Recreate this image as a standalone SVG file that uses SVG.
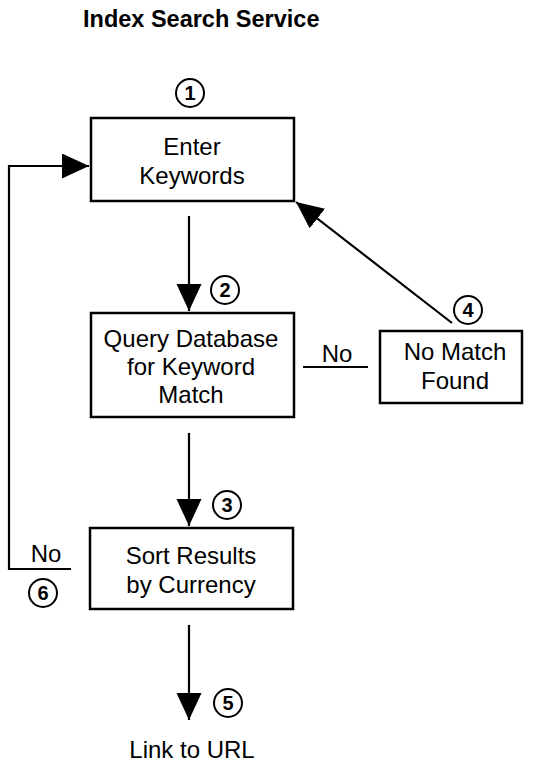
<svg xmlns="http://www.w3.org/2000/svg" width="539" height="767" viewBox="0 0 539 767">
<style>
.box{fill:#fff;stroke:#000;stroke-width:2.5}
.lbl{font-family:"Liberation Sans",Arial,sans-serif;font-size:24px;text-anchor:middle;fill:#000}
.num{font-family:"Liberation Sans",Arial,sans-serif;font-size:20px;font-weight:bold;text-anchor:middle;fill:#000}
.circ{fill:#fff;stroke:#000;stroke-width:2}
.ln{fill:none;stroke:#000;stroke-width:2.2}
.title{font-family:"Liberation Sans",Arial,sans-serif;font-size:23.5px;font-weight:bold;fill:#000}
</style>
<defs>
<marker id="ah" markerUnits="userSpaceOnUse" markerWidth="28" markerHeight="26" refX="27" refY="12.5" orient="auto">
<path d="M0,0 L27,12.5 L0,25 z" fill="#000"/>
</marker>
</defs>
<rect width="539" height="767" fill="#fff"/>
<text class="title" x="83" y="27">Index Search Service</text>
<g id="connectors">
<path class="ln" d="M71,569 H9 V166 H89" marker-end="url(#ah)"/>
<path class="ln" d="M189,216 V311" marker-end="url(#ah)"/>
<path class="ln" d="M189,433 V526" marker-end="url(#ah)"/>
<path class="ln" d="M189,625 V720" marker-end="url(#ah)"/>
<path class="ln" d="M303,367 H368"/>
<path class="ln" d="M452,323 L296,202" marker-end="url(#ah)"/>
<text class="lbl" x="337" y="362">No</text>
<text class="lbl" x="46" y="562">No</text>
</g>
<g id="n1">
<rect class="box" x="91" y="118" width="203" height="83"/>
<text class="lbl" x="192" y="155">Enter</text>
<text class="lbl" x="192" y="184">Keywords</text>
</g>
<g id="n2">
<rect class="box" x="91" y="313" width="203" height="104"/>
<text class="lbl" x="191" y="347">Query Database</text>
<text class="lbl" x="191" y="375">for Keyword</text>
<text class="lbl" x="191" y="403">Match</text>
</g>
<g id="n3">
<rect class="box" x="90" y="528" width="203" height="81"/>
<text class="lbl" x="191" y="564">Sort Results</text>
<text class="lbl" x="191" y="593">by Currency</text>
</g>
<g id="n4">
<rect class="box" x="380" y="331" width="142" height="72"/>
<text class="lbl" x="455" y="360">No Match</text>
<text class="lbl" x="455" y="389">Found</text>
</g>
<g id="n5">
<text class="lbl" x="192" y="758">Link to URL</text>
</g>
<g id="markers">
<circle class="circ" cx="190" cy="93" r="14"/><text class="num" x="190" y="100">1</text>
<circle class="circ" cx="225" cy="290" r="14"/><text class="num" x="225" y="297">2</text>
<circle class="circ" cx="227" cy="505" r="14"/><text class="num" x="227" y="512">3</text>
<circle class="circ" cx="468" cy="310" r="14"/><text class="num" x="468" y="317">4</text>
<circle class="circ" cx="228" cy="703" r="14"/><text class="num" x="228" y="710">5</text>
<circle class="circ" cx="43" cy="593" r="14"/><text class="num" x="43" y="600">6</text>
</g>
</svg>
